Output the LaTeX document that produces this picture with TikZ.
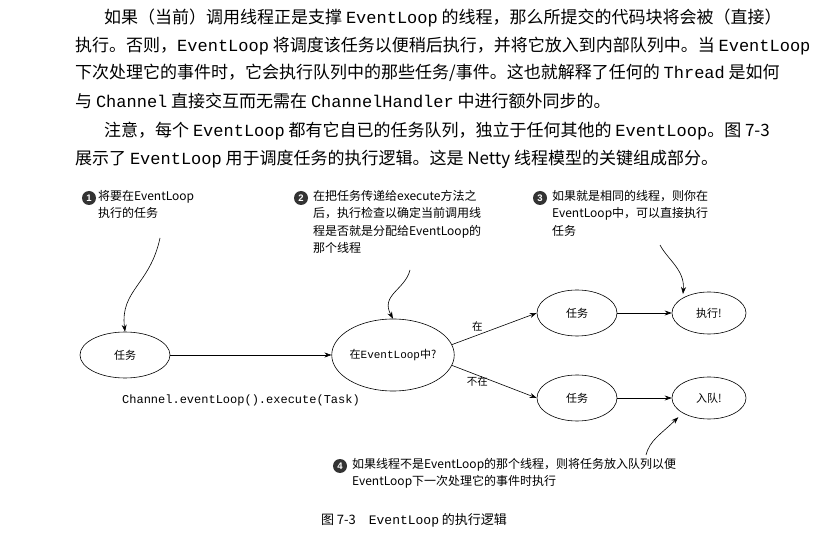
\documentclass[tikz,border=0pt]{standalone}
\usepackage{fontspec}
\setmainfont{Noto Sans CJK SC}
\newfontfamily\cjk{Noto Sans CJK SC}
\setmonofont{Liberation Mono}
\newfontfamily\ann{Liberation Sans}
\usetikzlibrary{shapes.geometric,arrows.meta}
\begin{document}
\begin{tikzpicture}[x=1pt,y=-1pt,
 para/.style={anchor=west,inner sep=0pt,font=\fontsize{17}{18}\selectfont},
 ell/.style={draw,ellipse,line width=0.6pt,font=\fontsize{11}{12}\selectfont\cjk,inner sep=0pt},
 note/.style={anchor=north west,align=left,inner sep=0pt,font=\fontsize{12}{17.5}\selectfont\cjk},
 num/.style={circle,fill=black!80,text=white,inner sep=0.8pt,minimum size=14pt,font=\fontsize{9.5}{9.5}\selectfont\bfseries\ann},
 arr/.style={-{Stealth[length=7pt,width=5pt]},line width=0.6pt},
 lbl/.style={font=\fontsize{10.5}{12}\selectfont\cjk,inner sep=0pt}]
\path[use as bounding box,fill=white] (0,0) rectangle (828,537);
\node[para] (p1) at (104,18) {如果（当前）调用线程正是支撑 \texttt{EventLoop} 的线程，那么所提交的代码块将会被（直接）};
\node[para] (p2) at (75,46) {执行。否则，\texttt{EventLoop} 将调度该任务以便稍后执行，并将它放入到内部队列中。当 \texttt{EventLoop}};
\node[para] (p3) at (75,73) {下次处理它的事件时，它会执行队列中的那些任务/事件。这也就解释了任何的 \texttt{Thread} 是如何};
\node[para] (p4) at (75,101) {与 \texttt{Channel} 直接交互而无需在 \texttt{ChannelHandler} 中进行额外同步的。};
\node[para] (p5) at (104,131) {注意，每个 \texttt{EventLoop} 都有它自已的任务队列，独立于任何其他的 \texttt{EventLoop}。图 7-3};
\node[para] (p6) at (75,159) {展示了 \texttt{EventLoop} 用于调度任务的执行逻辑。这是 Netty 线程模型的关键组成部分。};

\node[ell,minimum width=90pt,minimum height=46pt] (t0) at (125,355) {任务};
\node[ell,minimum width=122pt,minimum height=72pt] (q) at (393,355) {在\texttt{EventLoop}中?};
\node[ell,minimum width=80pt,minimum height=46pt] (t1) at (577,313) {任务};
\node[ell,minimum width=74pt,minimum height=42pt] (e1) at (709,313) {执行!};
\node[ell,minimum width=80pt,minimum height=46pt] (t2) at (577,398) {任务};
\node[ell,minimum width=74pt,minimum height=42pt] (e2) at (709,398) {入队!};
\draw[arr] (t0) -- (q);
\draw[arr] (q.10) -- (t1.west) node[lbl,pos=0.3,above=4pt] (lin) {在};
\draw[arr] (q.-10) -- (t2.west) node[lbl,pos=0.3,below=1pt] (lout) {不在};
\draw[arr] (t1) -- (e1);
\draw[arr] (t2) -- (e2);
\node[inner sep=0pt,font=\fontsize{12}{14}\selectfont\ttfamily] (cap) at (241,400) {Channel.eventLoop().execute(Task)};

\node[num] (n1) at (89,198) {1};
\node[note] (a1) at (98,190) {将要在EventLoop\\执行的任务};
\node[num] (n2) at (301,198) {2};
\node[note] (a2) at (313,190) {在把任务传递给execute方法之\\后，执行检查以确定当前调用线\\程是否就是分配给EventLoop的\\那个线程};
\node[num] (n3) at (540,198) {3};
\node[note] (a3) at (552,190) {如果就是相同的线程，则你在\\EventLoop中，可以直接执行\\任务};
\node[num] (n4) at (340,466) {4};
\node[note] (a4) at (352,458) {如果线程不是EventLoop的那个线程，则将任务放入队列以便\\EventLoop下一次处理它的事件时执行};

\coordinate (c1) at (160,238);
\coordinate (c2) at (410,270);
\coordinate (c3) at (660,245);
\coordinate (c4) at (646,455);
\draw[arr] (c1) .. controls (150,285) and (120,290) .. (t0.north);
\draw[arr] (c2) .. controls (405,290) and (380,295) .. (q.north);
\draw[arr,shorten >=4pt] (c3) .. controls (668,260) and (685,270) .. (e1.north west);
\draw[arr,shorten >=6pt] (c4) .. controls (650,440) and (660,435) .. (e2.south west);

\node[inner sep=0pt,font=\fontsize{13}{15}\selectfont] (fc) at (414,520) {图 7-3\quad \texttt{EventLoop} 的执行逻辑};
\end{tikzpicture}
\end{document}
